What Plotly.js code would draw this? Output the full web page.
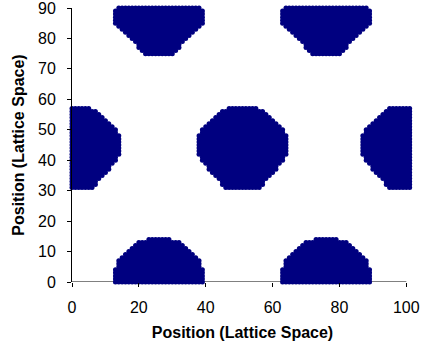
<!DOCTYPE html>
<html>
<head>
<meta charset="utf-8">
<script src="https://cdn.plot.ly/plotly-3.0.1.min.js"></script>
<style>html,body{margin:0;padding:0;background:#fff;}#chart{width:422px;height:354px;}</style>
</head>
<body>
<div id="chart"></div>
<script>
// Each row: [y, first x, last x] of the occupied lattice sites
const blobCenterRows = [
  [57,47,55],[56,45,57],[55,44,58],[54,43,59],[53,42,60],[52,41,61],[51,40,62],
  [50,39,63],[49,39,63],[48,38,64],[47,38,64],[46,38,64],[45,38,64],[44,38,64],
  [43,38,64],[42,38,64],[41,39,63],[40,39,63],[39,40,62],[38,41,61],[37,41,61],
  [36,42,60],[35,43,59],[34,44,58],[33,45,57],[32,45,57],[31,46,56]
];
const blobLeftRows = [
  [57,0,5],[56,0,7],[55,0,8],[54,0,9],[53,0,10],[52,0,11],[51,0,12],
  [50,0,13],[49,0,13],[48,0,14],[47,0,14],[46,0,14],[45,0,14],[44,0,14],
  [43,0,14],[42,0,14],[41,0,13],[40,0,13],[39,0,12],[38,0,11],[37,0,11],
  [36,0,10],[35,0,9],[34,0,8],[33,0,7],[32,0,7],[31,0,6]
];
const blobRightRows = [
  [57,95,101],[56,94,101],[55,93,101],[54,92,101],[53,91,101],[52,90,101],[51,89,101],
  [50,88,101],[49,88,101],[48,87,101],[47,87,101],[46,87,101],[45,87,101],[44,87,101],
  [43,87,101],[42,87,101],[41,88,101],[40,88,101],[39,89,101],[38,90,101],[37,90,101],
  [36,91,101],[35,92,101],[34,93,101],[33,94,101],[32,94,101],[31,95,101]
];
const blobTopLeftRows = [
  [90,14,38],[89,13,39],[88,13,39],[87,13,39],[86,13,39],[85,13,39],[84,14,38],
  [83,15,37],[82,16,36],[81,17,35],[80,18,34],[79,19,33],[78,20,32],[77,20,32],
  [76,21,31],[75,22,30]
];
const blobTopRightRows = [
  [90,64,88],[89,63,89],[88,63,89],[87,63,89],[86,63,89],[85,63,89],[84,64,88],
  [83,65,87],[82,66,86],[81,67,85],[80,68,84],[79,69,83],[78,70,82],[77,70,82],
  [76,71,81],[75,72,80]
];
const blobBottomLeftRows = [
  [14,23,29],[13,20,32],[12,19,33],[11,18,34],[10,17,35],[9,16,36],[8,15,37],
  [7,14,38],[6,14,38],[5,14,38],[4,13,39],[3,13,39],[2,13,39],[1,13,39],[0,13,39]
];
const blobBottomRightRows = [
  [14,73,79],[13,70,82],[12,69,83],[11,68,84],[10,67,85],[9,66,86],[8,65,87],
  [7,64,88],[6,64,88],[5,64,88],[4,63,89],[3,63,89],[2,63,89],[1,63,89],[0,63,89]
];
const xTickVals = [0, 20, 40, 60, 80, 100];
const yTickVals = [0, 10, 20, 30, 40, 50, 60, 70, 80, 90];
const axisTitle = 'Position (Lattice Space)';

const allBlobs = [blobCenterRows, blobLeftRows, blobRightRows, blobTopLeftRows,
                  blobTopRightRows, blobBottomLeftRows, blobBottomRightRows];
const xs = [], ys = [];
allBlobs.forEach(rows => rows.forEach(([y, x0, x1]) => {
  for (let x = x0; x <= x1; x++) { xs.push(x); ys.push(y); }
}));

const font = 'Liberation Sans, Arial, sans-serif';
const trace = {
  type: 'scatter', mode: 'markers', x: xs, y: ys,
  cliponaxis: false, hoverinfo: 'skip',
  marker: {symbol: 'circle', size: 5, color: '#000080', line: {width: 0}}
};
const layout = {
  width: 422, height: 354,
  margin: {l: 72, r: 9, t: 8, b: 72},
  paper_bgcolor: '#fff', plot_bgcolor: '#fff',
  showlegend: false,
  font: {family: font, color: '#000', size: 16},
  xaxis: {
    range: [0, 102], tickvals: xTickVals, ticktext: xTickVals.map(String),
    showgrid: false, zeroline: false, showline: false,
    ticks: 'outside', ticklen: 4, tickwidth: 1, tickcolor: '#000',
    ticklabelstandoff: 7, ticklabeloverflow: 'allow',
    tickfont: {family: font, size: 16, color: '#000'},
    title: {text: axisTitle, font: {family: font, size: 16, weight: 'bold', color: '#000'}, standoff: 11},
    fixedrange: true
  },
  yaxis: {
    range: [0, 90], tickvals: yTickVals, ticktext: yTickVals.map(String),
    showgrid: false, zeroline: false, showline: true, linecolor: '#000', linewidth: 1,
    ticks: 'outside', ticklen: 4, tickwidth: 1, tickcolor: '#000',
    ticklabelstandoff: 8, ticklabeloverflow: 'allow',
    tickfont: {family: font, size: 16, color: '#000'},
    title: {text: axisTitle, font: {family: font, size: 16, weight: 'bold', color: '#000'}, standoff: 9},
    fixedrange: true
  },
  shapes: [{type: 'line', xref: 'x', yref: 'y', x0: 0, x1: 100, y0: 0, y1: 0,
            line: {color: '#000', width: 1}, layer: 'below'}]
};
Plotly.newPlot('chart', [trace], layout, {displayModeBar: false, staticPlot: true});
</script>
</body>
</html>
